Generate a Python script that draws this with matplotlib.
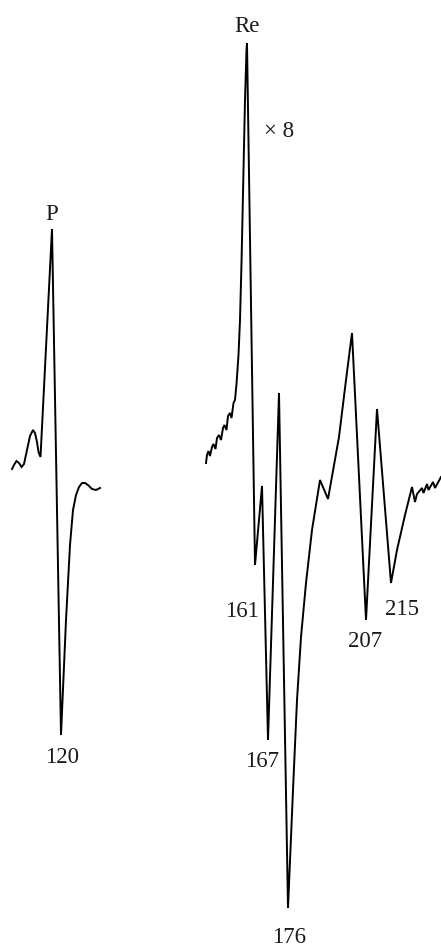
import matplotlib.pyplot as plt

plt.rcParams['font.family'] = ['Liberation Serif', 'DejaVu Serif']

# P band trace (x position, vertical position; y grows downward)
p_x = [12, 14, 16.5, 19, 21.5, 24, 27, 30, 33, 35, 37, 38.5, 40.5,
       52, 61, 66, 70, 73, 76, 79, 82, 85, 88, 92, 96, 100]
p_y = [469, 465, 461, 463, 467, 464, 450, 436, 430, 433, 442, 452, 457,
       229, 735, 620, 545, 510, 495, 487, 483, 483, 485, 489, 490, 488]

# Re band trace
re_x = [206, 207, 208.5, 210, 212, 213.5, 215.5, 217, 219, 221, 223, 224.5,
        226.5, 228, 230, 231.5, 233.5, 235, 236.5, 238.5, 240, 241.5, 243.5,
        245, 246.5, 247, 255, 262, 268, 279, 288, 293, 297, 301, 306, 312,
        320, 328, 339, 346, 352, 366, 377, 391, 397, 405, 412, 415, 417, 422,
        423.5, 427, 428.5, 433, 435, 441]
re_y = [463, 455, 451, 456, 447, 444, 449, 438, 435, 440, 428, 425, 430,
        416, 413, 418, 403, 400, 384, 355, 320, 263, 170,
        100, 50, 43, 565, 486, 740, 393, 908, 790, 700, 637, 583, 530,
        480, 499, 437, 380, 333, 620, 409, 583, 550, 515, 487, 502, 494, 488,
        493, 484, 490, 482, 488, 477]

# peak labels
labels = ['P', 'Re', '\u00d7 8', '120', '161', '167', '176', '207', '215']
label_x = [52, 247, 279, 62, 242, 262, 289, 365, 402]
label_y = [214, 26, 131, 757, 611, 761, 937, 641, 609]

fig = plt.figure(figsize=(4.41, 9.47), dpi=100)
ax = fig.add_axes([0, 0, 1, 1])
ax.plot(p_x, p_y, color='black', lw=1.4, solid_joinstyle='miter')
ax.plot(re_x, re_y, color='black', lw=1.4, solid_joinstyle='miter')
for t, x, y in zip(labels, label_x, label_y):
    ax.text(x, y, t, ha='center', va='center', fontsize=16.5, color='#1a1a1a')

ax.set_xlim(0, 441)
ax.set_ylim(947, 0)
ax.axis('off')
fig.savefig('out.png', dpi=100, facecolor='white')
